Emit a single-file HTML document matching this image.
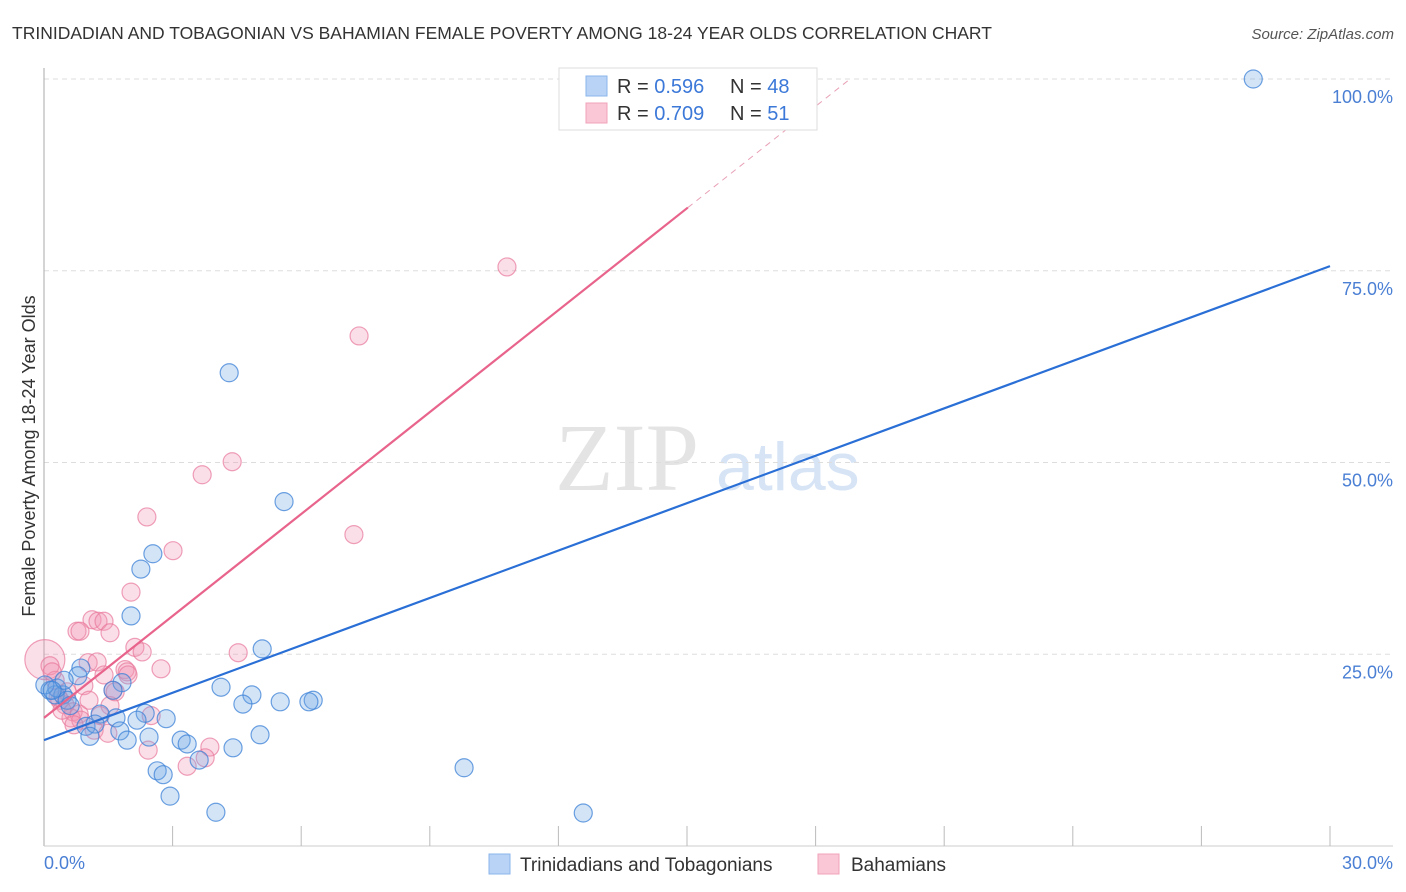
<!DOCTYPE html>
<html><head><meta charset="utf-8"><style>
body{margin:0;background:#fff;font-family:"Liberation Sans",sans-serif}
svg{display:block}
</style></head><body>
<svg id="c" width="1406" height="892" xmlns="http://www.w3.org/2000/svg">
<text x="12" y="39" font-size="17.5" fill="#333">TRINIDADIAN AND TOBAGONIAN VS BAHAMIAN FEMALE POVERTY AMONG 18-24 YEAR OLDS CORRELATION CHART</text>
<text x="1394" y="39" font-size="15" fill="#555" font-style="italic" text-anchor="end">Source: ZipAtlas.com</text>
<text x="35" y="456" font-size="18" fill="#333" text-anchor="middle" transform="rotate(-90 35 456)">Female Poverty Among 18-24 Year Olds</text>
<g><text x="555" y="490" font-size="96" fill="#e4e4e4" font-family="Liberation Serif,serif">ZIP</text><text x="716" y="490" font-size="68" fill="#d6e4f6">atlas</text></g>
<g id="grid"></g><g id="marks"></g><g id="lines"></g>
<g>
<rect x="559" y="68" width="258" height="62" fill="#fff" stroke="#ddd"/>
<rect x="586" y="76" width="21" height="20" fill="#b8d3f5" stroke="#8bb4ea"/>
<rect x="586" y="103" width="21" height="20" fill="#f9c7d6" stroke="#f0a3bb"/>
<text x="617" y="93" font-size="20" fill="#333">R = <tspan fill="#3b78d8">0.596</tspan></text>
<text x="730" y="93" font-size="20" fill="#333">N = <tspan fill="#3b78d8">48</tspan></text>
<text x="617" y="120" font-size="20" fill="#333">R = <tspan fill="#3b78d8">0.709</tspan></text>
<text x="730" y="120" font-size="20" fill="#333">N = <tspan fill="#3b78d8"> 51</tspan></text>
</g>
<g>
<rect x="489" y="854" width="21" height="20" fill="#b8d3f5" stroke="#8bb4ea"/>
<text x="520" y="871" font-size="19" fill="#333">Trinidadians and Tobagonians</text>
<rect x="818" y="854" width="21" height="20" fill="#f9c7d6" stroke="#f0a3bb"/>
<text x="851" y="871" font-size="19" fill="#333">Bahamians</text>
</g>
</svg>
<script>
const xTicks=[0,30];
const yTicks=[25,50,75,100];
const blueX=[28.21,4.32,5.60,2.54,2.26,2.03,5.09,0.86,0.79,1.82,1.61,4.13,4.85,4.64,5.51,6.28,6.18,0.14,0.26,0.44,0.54,0.61,1.31,1.68,2.36,2.85,2.17,0.98,1.19,1.77,1.07,1.94,2.45,3.20,3.34,5.04,4.41,3.62,2.64,2.78,9.80,2.94,4.01,12.58,0.30,0.47,0.02,0.19];
const blueY=[100.0,61.7,44.9,38.1,36.1,30.0,25.7,23.2,22.2,21.3,20.3,20.7,19.7,18.5,18.8,19.0,18.8,20.3,19.7,19.7,19.0,18.3,17.2,16.7,17.3,16.6,16.4,15.6,15.9,15.0,14.3,13.8,14.2,13.8,13.3,14.5,12.8,11.2,9.8,9.3,10.2,6.5,4.4,4.3,20.6,21.6,21.0,20.3];
const pinkX=[10.80,7.35,4.39,3.69,2.40,3.01,7.23,2.03,1.12,1.26,0.77,0.84,1.40,1.54,2.12,2.29,4.53,2.73,0.02,0.14,1.03,1.24,1.89,1.94,1.40,0.26,0.93,1.61,0.37,0.49,0.68,0.82,1.54,0.33,0.63,1.17,1.49,2.50,1.31,2.43,3.87,3.76,3.34,1.66,0.86,0.54,0.19,1.96,0.42,1.05,0.70];
const pinkY=[75.5,66.5,50.1,48.4,42.9,38.5,40.6,33.1,29.5,29.3,28.0,28.0,29.3,27.8,25.9,25.3,25.2,23.1,24.3,23.5,23.9,24.0,23.0,22.7,22.3,21.6,20.9,20.3,19.0,18.4,17.5,17.2,18.3,19.4,16.7,15.1,14.7,17.0,17.0,12.5,12.9,11.5,10.4,20.1,16.4,20.1,22.7,22.3,17.7,19.0,15.8];
const blueTrend=[13.8,75.6];
const pinkTrend=[16.7,4.43];
const NS="http://www.w3.org/2000/svg";
const X=v=>44+v/30*1286, Y=v=>846-v/100*767;
function mk(t,a,p){const e=document.createElementNS(NS,t);for(const k in a)e.setAttribute(k,a[k]);p.appendChild(e);return e;}
const g=document.getElementById('grid');
yTicks.forEach(t=>{
 const l=mk('line',{x1:44,x2:1393,y1:Y(t),y2:Y(t),stroke:'#ddd','stroke-dasharray':'5,4'},g);
 
 
 const tx=mk('text',{x:1393,y:Y(t)+24,'font-size':18,fill:'#4a7fd4','text-anchor':'end'},g);tx.textContent=t.toFixed(1)+'%';
 
 
});
mk('line',{x1:44,x2:44,y1:68,y2:846,stroke:'#aaa'},g);
mk('line',{x1:44,x2:1393,y1:846,y2:846,stroke:'#ccc'},g);
for(let i=1;i<=10;i++){mk('line',{x1:X(i*3),x2:X(i*3),y1:826,y2:846,stroke:'#bbb'},g);}
xTicks.forEach((t,i)=>{const tx=mk('text',{x:i?1393:44,y:869,'font-size':18,fill:'#4a7fd4','text-anchor':i?'end':'start'},g);tx.textContent=t.toFixed(1)+'%';
 
 });
const m=document.getElementById('marks');
pinkX.forEach((x,i)=>{const r=(i==18)?20:9;const c=mk('circle',{cx:X(x),cy:Y(pinkY[i]),r:r,fill:'rgba(242,150,180,0.3)',stroke:'rgba(232,120,155,0.7)','stroke-width':1.2},m);
 
 });
blueX.forEach((x,i)=>{const c=mk('circle',{cx:X(x),cy:Y(blueY[i]),r:9,fill:'rgba(110,165,230,0.3)',stroke:'rgba(60,130,215,0.75)','stroke-width':1.2},m);
 
 });
const L=document.getElementById('lines');
const bl=mk('line',{x1:X(0),y1:Y(blueTrend[0]),x2:X(30),y2:Y(blueTrend[1]),stroke:'#2a6fd6','stroke-width':2.2},L);


const pe=15.02, pm=(100-pinkTrend[0])/pinkTrend[1];
const pl=mk('line',{x1:X(0),y1:Y(pinkTrend[0]),x2:X(pe),y2:Y(pinkTrend[0]+pinkTrend[1]*pe),stroke:'#e8648c','stroke-width':2.2},L);


const pd=mk('line',{x1:X(pe),y1:Y(pinkTrend[0]+pinkTrend[1]*pe),x2:X(pm),y2:Y(100),stroke:'#e8a0b5','stroke-width':1,'stroke-dasharray':'6,5'},L);


</script>
</body></html>
